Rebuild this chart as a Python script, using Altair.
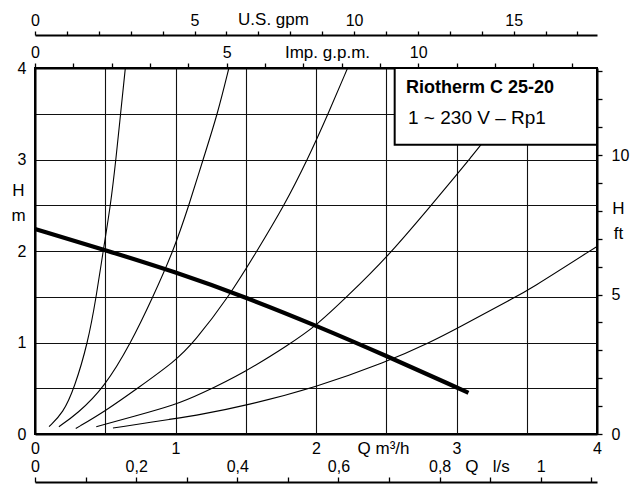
import altair as alt
import pandas as pd

FONT = "Liberation Sans"

# ---- data (Q in m3/h, H in m) ----
pump_q = [0.0, 0.5, 1.0, 1.5, 2.0, 2.5, 3.0, 3.085]
pump_h = [2.24, 2.01, 1.77, 1.495, 1.186, 0.855, 0.51, 0.45]

sys1_q = [0.10, 0.20, 0.28, 0.377, 0.436, 0.485, 0.538, 0.576, 0.609, 0.643]
sys1_h = [0.08, 0.23, 0.5, 1.0, 1.5, 2.0, 2.5, 3.0, 3.5, 4.0]

sys2_q = [0.17, 0.30, 0.49, 0.685, 0.84, 0.985, 1.096, 1.196, 1.30, 1.38]
sys2_h = [0.08, 0.22, 0.5, 1.0, 1.5, 2.0, 2.5, 3.0, 3.5, 4.0]

sys3_q = [0.29, 0.5, 0.73, 1.0, 1.13, 1.38, 1.58, 1.775, 1.94, 2.087, 2.225]
sys3_h = [0.06, 0.25, 0.5, 0.8, 1.0, 1.5, 2.0, 2.5, 3.0, 3.5, 4.0]

sys4_q = [0.436, 0.7, 1.0, 1.17, 1.5, 1.8, 2.0, 2.22, 2.5, 2.82, 3.0, 3.1, 3.18, 3.4, 3.58]
sys4_h = [0.08, 0.19, 0.32, 0.43, 0.68, 0.97, 1.18, 1.5, 1.92, 2.5, 2.83, 3.02, 3.17, 3.6, 4.0]

sys5_q = [0.555, 1.0, 1.17, 1.5, 2.0, 2.5, 2.81, 3.0, 3.42, 3.5, 4.0]
sys5_h = [0.065, 0.17, 0.21, 0.31, 0.51, 0.785, 1.0, 1.15, 1.5, 1.56, 2.05]

# axis ranges / ticks
q_domain = [0, 4]
h_domain = [0, 4]
grid_steps = [0, 0.5, 1, 1.5, 2, 2.5, 3, 3.5, 4]
usgpm_ticks = list(range(0, 18))
impgpm_ticks = list(range(0, 15))
ls_ticks = [0, 0.1, 0.2, 0.3, 0.4, 0.5, 0.6, 0.7, 0.8, 0.9, 1.0, 1.1]
ft_ticks = list(range(0, 14))

M3H_TO_USGPM = 4.40287
M3H_TO_IMPGPM = 3.66615
M3H_TO_LS = 1 / 3.6
M_TO_FT = 3.28084

# legend box
box_q = [2.56, 4.0]
box_h = [3.16, 4.0]
title_line1 = "Riotherm C 25-20"
title_line2 = "1 ~ 230 V \u2013 Rp1"
title_pos_q = [2.64, 2.655]
title_pos_h = [3.78, 3.45]

rows = []
for name, qs, hs, kind in [
    ("pump", pump_q, pump_h, "pump"),
    ("s1", sys1_q, sys1_h, "system"),
    ("s2", sys2_q, sys2_h, "system"),
    ("s3", sys3_q, sys3_h, "system"),
    ("s4", sys4_q, sys4_h, "system"),
    ("s5", sys5_q, sys5_h, "system"),
]:
    for q, h in zip(qs, hs):
        rows.append({"curve": name, "kind": kind, "Q": q, "H": h})
df = pd.DataFrame(rows)

xs = alt.Scale(domain=q_domain, nice=False, zero=False)
ys = alt.Scale(domain=h_domain, nice=False, zero=False)

x_main = alt.X(
    "Q:Q", scale=xs,
    axis=alt.Axis(
        orient="bottom", values=grid_steps, grid=True, gridColor="#111", gridWidth=1.1,
        ticks=False, labelExpr="datum.value % 1 == 0 ? format(datum.value, 'd') : ''",
        labelFlush=False, labelPadding=6, domainColor="black", domainWidth=2,
        title="Q m\u00b3/h", titleX=348, titleY=14, titleAlign="center", titleBaseline="middle",
    ),
)
y_main = alt.Y(
    "H:Q", scale=ys,
    axis=alt.Axis(
        orient="left", values=grid_steps, grid=True, gridColor="#111", gridWidth=1.1,
        ticks=False, labelExpr="datum.value % 1 == 0 ? format(datum.value, 'd') : ''",
        labelPadding=9, domainColor="black", domainWidth=2,
        title=["H", "m"], titleAngle=0, titleX=-17, titleY=122, titleAlign="center",
        titleBaseline="middle", titleLineHeight=25,
    ),
)

curves = alt.Chart(df).mark_line(color="black", interpolate="basis").encode(
    x=x_main, y=y_main, detail="curve:N",
    strokeWidth=alt.StrokeWidth("kind:N", scale=alt.Scale(domain=["pump", "system"], range=[4.2, 1.1]), legend=None),
)

box_df = pd.DataFrame({"Q": [box_q[0]], "Q2": [box_q[1]], "H": [box_h[0]], "H2": [box_h[1]]})
box = alt.Chart(box_df).mark_rect(fill="white", stroke="black", strokeWidth=2).encode(
    x="Q:Q", x2="Q2", y="H:Q", y2="H2"
)

t1 = alt.Chart(pd.DataFrame({"Q": [title_pos_q[0]], "H": [title_pos_h[0]], "t": [title_line1]})).mark_text(
    align="left", baseline="middle", font=FONT, fontSize=18, fontWeight="bold", color="black"
).encode(x="Q:Q", y="H:Q", text="t:N")
t2 = alt.Chart(pd.DataFrame({"Q": [title_pos_q[1]], "H": [title_pos_h[1]], "t": [title_line2]})).mark_text(
    align="left", baseline="middle", font=FONT, fontSize=19, color="black"
).encode(x="Q:Q", y="H:Q", text="t:N")

main = alt.layer(curves, box, t1, t2)

imp = alt.Chart(pd.DataFrame({"v": impgpm_ticks})).mark_point(opacity=0).encode(
    x=alt.X("v:Q", scale=alt.Scale(domain=[0, 4 * M3H_TO_IMPGPM], nice=False, zero=False),
            axis=alt.Axis(orient="top", values=impgpm_ticks, grid=False,
                          labelExpr="datum.value % 5 == 0 ? datum.label : ''",
                          labelFlush=False, tickSize=5, tickWidth=1.3, tickColor="black",
                          labelPadding=3, domainColor="black", domainWidth=2,
                          title="Imp. g.p.m.", titleX=292, titleY=-16, titleAlign="center",
                          titleBaseline="middle"))
)

us = alt.Chart(pd.DataFrame({"v": usgpm_ticks})).mark_point(opacity=0).encode(
    x=alt.X("v:Q", scale=alt.Scale(domain=[0, 4 * M3H_TO_USGPM], nice=False, zero=False),
            axis=alt.Axis(orient="top", offset=33, values=usgpm_ticks, grid=False,
                          labelExpr="datum.value % 5 == 0 ? datum.label : ''",
                          labelFlush=False, tickSize=4, tickWidth=1.3, tickColor="black",
                          labelPadding=3, domainColor="black", domainWidth=2,
                          title="U.S. gpm", titleX=238, titleY=-16, titleAlign="center",
                          titleBaseline="middle"))
)

ls = alt.Chart(pd.DataFrame({"v": ls_ticks})).mark_point(opacity=0).encode(
    x=alt.X("v:Q", scale=alt.Scale(domain=[0, 4 * M3H_TO_LS], nice=False, zero=False),
            axis=alt.Axis(orient="top", offset=-414, values=ls_ticks, grid=False,
                          labelExpr="round(datum.value * 10) % 2 == 0 ? replace(format(datum.value, '~g'), '.', ',') : ''",
                          labelFlush=False, tickSize=5, tickWidth=1.3, tickColor="black",
                          labelPadding=3, domainColor="black", domainWidth=2,
                          title="Q\u00a0\u00a0\u00a0l/s", titleX=452, titleY=-16, titleAlign="center",
                          titleBaseline="middle"))
)

ft = alt.Chart(pd.DataFrame({"v": ft_ticks})).mark_point(opacity=0).encode(
    y=alt.Y("v:Q", scale=alt.Scale(domain=[0, 4 * M_TO_FT], nice=False, zero=False),
            axis=alt.Axis(orient="right", values=ft_ticks, grid=False,
                          labelExpr="datum.value % 5 == 0 ? datum.label : ''",
                          tickSize=5, tickWidth=1.3, tickColor="black",
                          labelPadding=9, domainColor="black", domainWidth=2,
                          title=["H", "ft"], titleAngle=0, titleX=21, titleY=140,
                          titleAlign="center", titleBaseline="middle", titleLineHeight=25))
)

chart = alt.layer(main, imp, us, ls, ft).resolve_scale(x="independent", y="independent").properties(
    width=562, height=366,
    padding={"left": 27, "top": 60, "right": 36, "bottom": 56},
    autosize=alt.AutoSizeParams(type="none"),
    background="white",
).configure_view(stroke="black", strokeWidth=2).configure_axis(
    labelFont=FONT, titleFont=FONT, labelFontSize=16, titleFontSize=17,
    labelColor="black", titleColor="black", titleFontWeight="normal",
)

chart.save("out.html", embed_options={"renderer": "svg", "actions": False})
